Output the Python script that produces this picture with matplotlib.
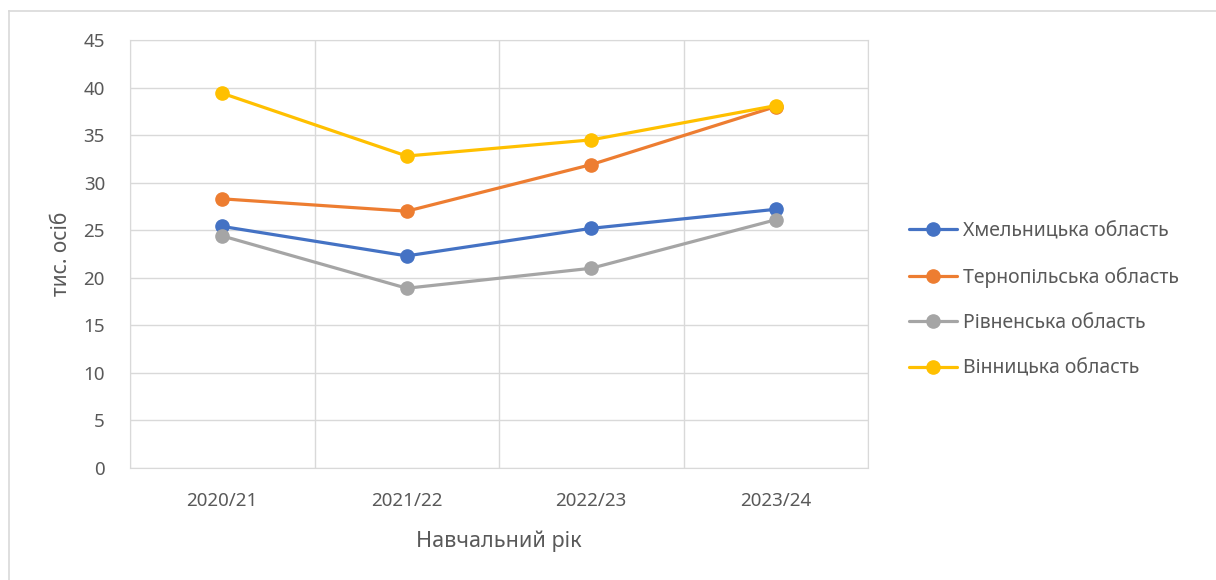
import matplotlib.pyplot as plt
from matplotlib.lines import Line2D

plt.rcParams['font.family'] = ['Noto Sans', 'DejaVu Sans']

years = ['2020/21', '2021/22', '2022/23', '2023/24']
khmelnytska = [25.4, 22.3, 25.2, 27.2]
ternopilska = [28.3, 27.0, 31.9, 38.0]
rivnenska = [24.4, 18.9, 21.0, 26.1]
vinnytska = [39.4, 32.8, 34.5, 38.1]

series = [
    ('Хмельницька область', khmelnytska, '#4472c4'),
    ('Тернопільська область', ternopilska, '#ed7d31'),
    ('Рівненська область', rivnenska, '#a5a5a5'),
    ('Вінницька область', vinnytska, '#ffc000'),
]

TXT = '#595959'
GRID = '#d9d9d9'

fig = plt.figure(figsize=(12.16, 5.8), dpi=100)
# chart frame: only top and left edges are visible in the crop
bx, by = 8.5/1216, 1 - 10.5/580
fig.add_artist(Line2D([bx, 1], [by, by], transform=fig.transFigure, color=GRID, lw=1.2))
fig.add_artist(Line2D([bx, bx], [0, by], transform=fig.transFigure, color=GRID, lw=1.2))

ax = fig.add_axes([130/1216, 112/580, 738/1216, 428/580])

x = [i + 0.5 for i in range(len(years))]
for name, vals, col in series:
    ax.plot(x, vals, color=col, lw=2.3, marker='o', ms=9.5, label=name,
            solid_capstyle='round', zorder=3)

ax.set_xlim(0, len(years))
ax.set_ylim(0, 45)
ax.set_yticks(range(0, 46, 5))
ax.set_xticks(x)
ax.set_xticklabels(years)
ax.set_xticks(range(len(years) + 1), minor=True)
ax.grid(True, which='major', axis='y', color=GRID, lw=1)
ax.grid(True, which='minor', axis='x', color=GRID, lw=1)
ax.tick_params(which='both', length=0, labelsize=13.5, colors=TXT)
ax.tick_params(axis='x', pad=17)
ax.tick_params(axis='y', pad=18)
for s in ax.spines.values():
    s.set_color(GRID)

ax.set_ylabel('тис. осіб', fontsize=15, color=TXT, labelpad=8)
ax.set_xlabel('Навчальний рік', fontsize=15.5, color=TXT, labelpad=15)

fig.legend(loc='center left', bbox_to_anchor=(891/1216, 1 - 300/580),
           frameon=False, fontsize=14, labelcolor=TXT, handlelength=2.5,
           handletextpad=0.3, labelspacing=1.32)

fig.savefig('out.png', dpi=100)
